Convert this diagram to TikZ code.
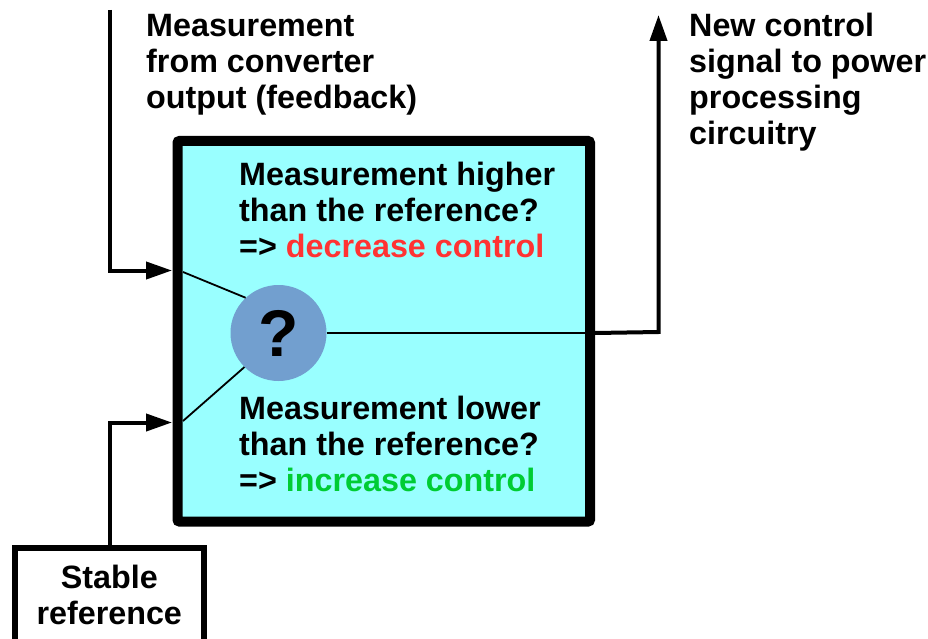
\documentclass[tikz,border=0pt]{standalone}
\usepackage{fontspec}
\setmainfont{Liberation Sans}
\usetikzlibrary{arrows.meta}
\definecolor{boxfill}{HTML}{99FFFF}
\definecolor{qfill}{HTML}{729FCF}
\definecolor{redtxt}{HTML}{FF3333}
\definecolor{greentxt}{HTML}{00CC33}
\tikzset{
  lbl/.style={font=\fontsize{32.3}{36}\selectfont\bfseries, inner sep=0pt, align=left},
  wire/.style={line width=4pt},
  thinwire/.style={line width=1.8pt},
  tip/.style={-{Triangle[length=26pt,width=17pt]}},
}
\begin{document}
\begin{tikzpicture}[x=1pt,y=-1pt]
\useasboundingbox (0,0) rectangle (928,639);
\clip (0,0) rectangle (928,639);

% comparator block
\node[draw, line width=10pt, fill=boxfill, rounded corners=2pt, inner sep=0pt,
      minimum width=412.5pt, minimum height=380.5pt] (box) at (383.75,331.25) {};

% multi-line labels are placed by the baseline of their last line
\node[lbl, anchor=base west] (hi) at (239,257)
  {Measurement higher\\than the reference?\\=> \textcolor{redtxt}{decrease control}};
\node[lbl, anchor=base west] (lo) at (239,491)
  {Measurement lower\\than the reference?\\=> \textcolor{greentxt}{increase control}};

\node[circle, fill=qfill, minimum size=96pt, inner sep=0pt,
      font=\fontsize{66}{66}\selectfont\bfseries] (q) at (278.5,333) {?};

% stable reference source
\node[draw, line width=6pt, minimum width=188.5pt, minimum height=94pt, inner sep=0pt,
      lbl, align=center] (ref) at (109.25,595) {Stable\\reference};

% outside labels
\node[lbl, anchor=base west] (fbtxt) at (146,109)
  {Measurement\\from converter\\output (feedback)};
\node[lbl, anchor=base west] (outtxt) at (689,145)
  {New control\\signal to power\\processing\\circuitry};

% connector end points
\coordinate (fbtop) at (109.5,10);
\coordinate (fbin) at (172,270.5);
\coordinate (refin) at (172,422.5);
\coordinate (fbjoin) at (183,272);
\coordinate (refjoin) at (183,421);
\coordinate (outcorner) at (658.5,332);
\coordinate (outtop) at (658.5,15);

% feedback input
\draw[wire, tip] (fbtop) |- (fbin);
% reference input
\draw[wire, tip] (ref.north -| fbtop) |- (refin);

% lines into the comparator
\draw[thinwire] (fbjoin) -- (q.133);
\draw[thinwire] (refjoin) -- (q.225);

% output
\draw[thinwire] (q.east) -- (q.east -| box.east);
\draw[wire, tip] (q.east -| box.east) -- (outcorner) -- (outtop);
\end{tikzpicture}
\end{document}
